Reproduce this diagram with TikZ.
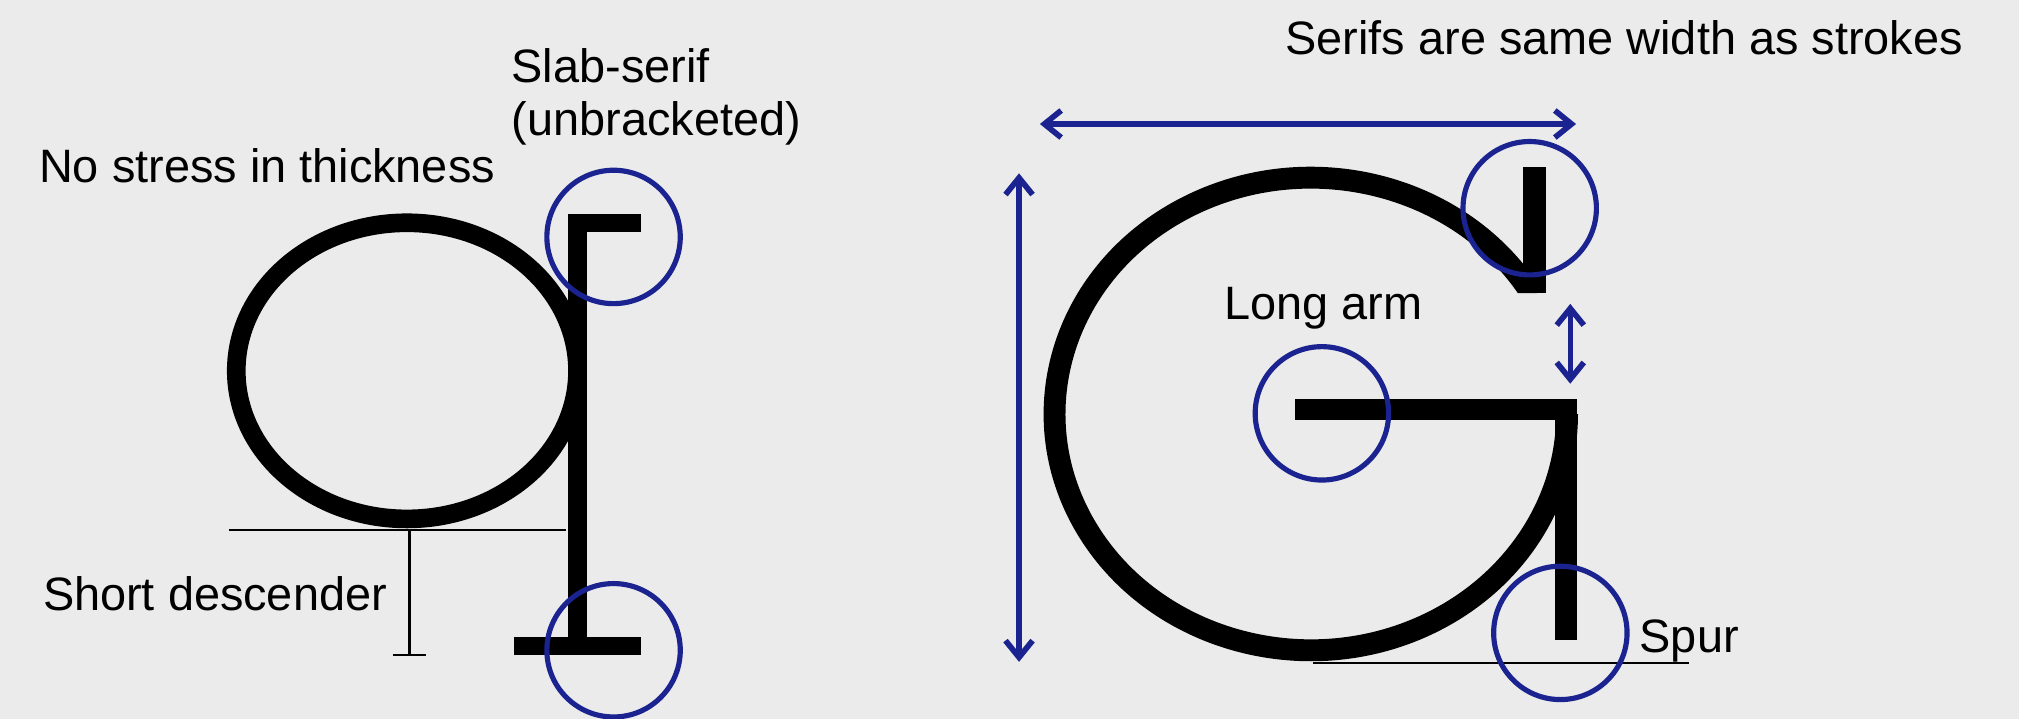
\documentclass[tikz,border=0pt]{standalone}
\usepackage{fontspec}
\setmainfont{Liberation Sans}
\usetikzlibrary{arrows.meta}
\definecolor{bgrey}{RGB}{235,235,235}
\definecolor{markblue}{RGB}{26,35,143}

\tikzset{
  glyph/.style={line width=7.25pt},
  guide/.style={line width=0.8pt},
  hilite/.style={circle,draw=markblue,line width=2pt,minimum size=51.8pt,inner sep=0pt},
  barb/.tip={Straight Barb[length=6.5pt,width=10.5pt,line width=2.2pt]},
  dimarrow/.style={draw=markblue,line width=2pt,barb-barb},
  note/.style={anchor=base west,inner sep=0pt,font=\fontsize{18.2}{22}\selectfont}
}

\begin{document}
\begin{tikzpicture}[x=0.5pt,y=-0.5pt]
    \useasboundingbox (0,0) rectangle (1568,558);
    \fill[bgrey] (0,0) rectangle (1568,558);

    % the q
    \draw[glyph] (316,288) ellipse[x radius=132.5,y radius=115];
    \fill (441,166) rectangle (456,508.5);
    \fill (441,166) rectangle (498,180);
    \fill (399,494.5) rectangle (498,508.5);

    % descender measure
    \coordinate (qbl) at (178,411.5);
    \coordinate (qbr) at (439.5,411.5);
    \coordinate (dtop) at (318,411.5);
    \coordinate (dbot) at (318,508.5);
    \draw[guide] (qbl) -- (qbr);
    \draw[guide] (dtop) -- (dbot);
    \draw[guide] ([xshift=-6.5pt]dbot) -- ([xshift=6.5pt]dbot);

    % the G
    \begin{scope}
        \clip (780,100) -- (1240,100) -- (1240,227.7) -- (1150,227.7) -- (1150,300)
            -- (1240,300) -- (1240,540) -- (780,540) -- cycle;
        \draw[line width=8.5pt] (1018,321.5) ++(-30:199 and 183.5)
            arc[start angle=-30,end angle=-360,x radius=199,y radius=183.5];
    \end{scope}
    \fill (1182.6,129.4) rectangle (1201,227.7);
    \fill (1006,310) rectangle (1224.6,326.5);
    \fill (1208,310) rectangle (1224.6,497);
    \coordinate (gbl) at (1019.6,515);
    \coordinate (gbr) at (1311.6,515);
    \draw[guide] (gbl) -- (gbr);

    % circles
    \foreach \n/\p in {slabtop/{476.5,184},slabfoot/{476.5,505},gserif/{1188,161.7},
        garm/{1026.6,321},gspur/{1211.8,491.5}}
        \node[hilite] (\n) at (\p) {};

    % measure arrows
    \coordinate (wl) at (807.6,96.3);
    \coordinate (wr) at (1224,96.3);
    \coordinate (ht) at (791.4,134.6);
    \coordinate (hb) at (791.4,514);
    \coordinate (gt) at (1219.5,236);
    \coordinate (gb) at (1219.5,298);
    \draw[dimarrow] (wl) -- (wr);
    \draw[dimarrow] (ht) -- (hb);
    \draw[dimarrow] (gt) -- (gb);

    % notes
    \node[note] (serifnote) at (998,42.7) {Serifs are same width as strokes};
    \node[note] (slabnote) at (397,64) {Slab-serif};
    \node[note] (slabnote2) at (397,105) {(unbracketed)};
    \node[note] (stressnote) at (30,142) {No stress in thickness};
    \node[note] (descnote) at (33,474) {Short descender};
    \node[note] (armnote) at (950.5,248.5) {Long arm};
    \node[note] (spurnote) at (1273,507) {Spur};
\end{tikzpicture}
\end{document}
